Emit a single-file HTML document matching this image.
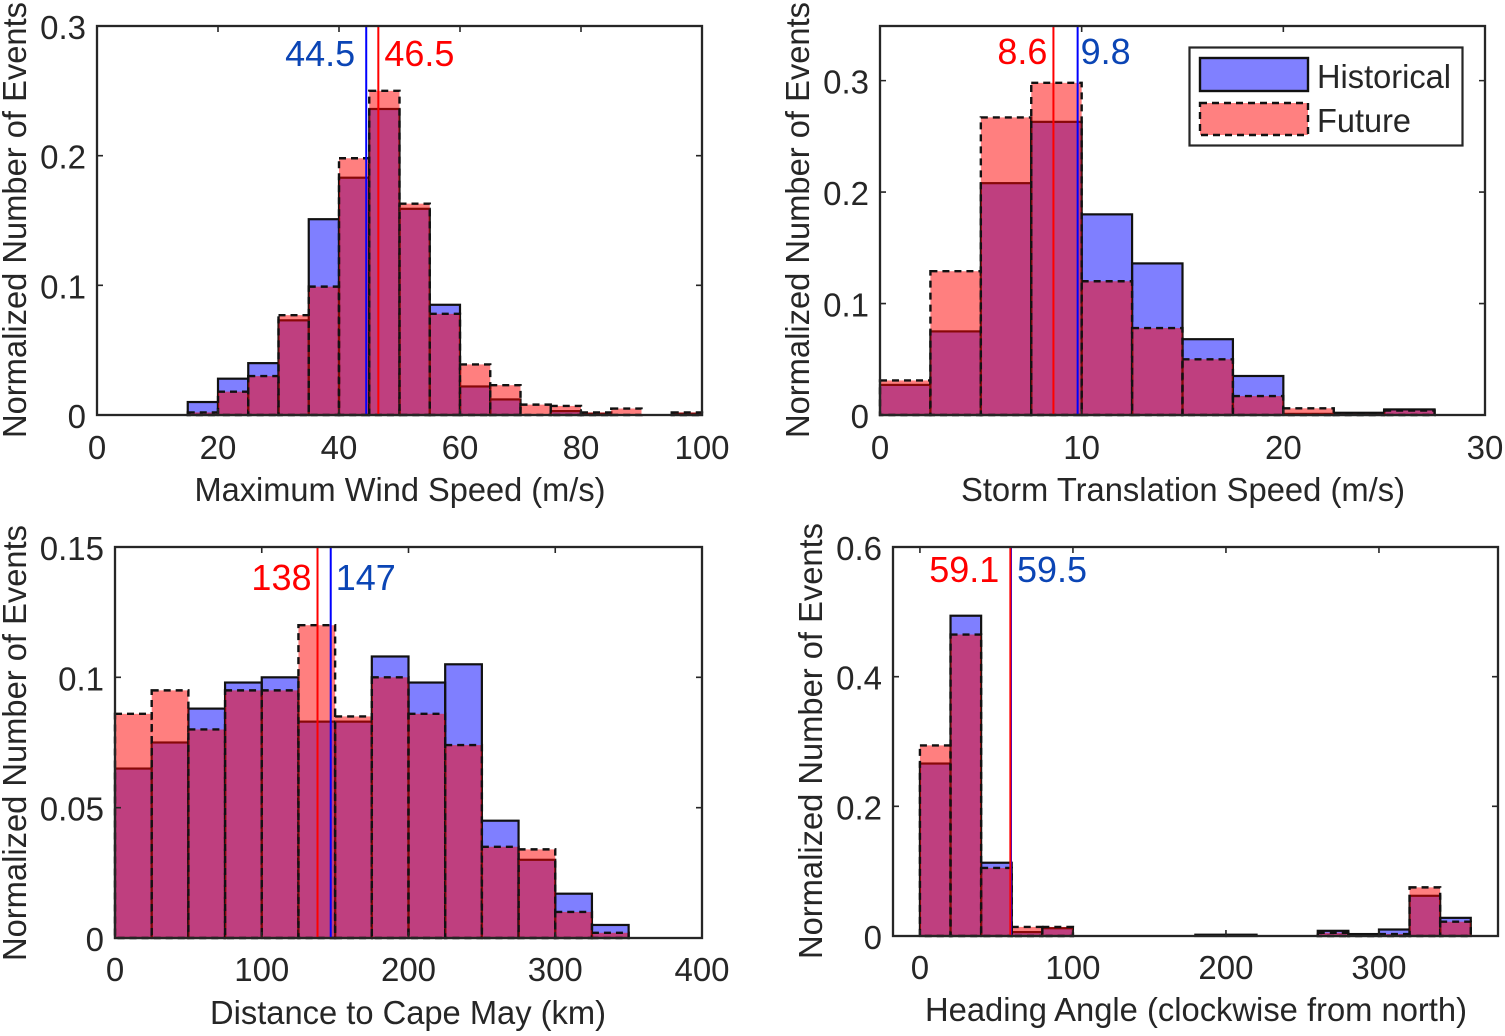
<!DOCTYPE html>
<html lang="en">
<head>
<meta charset="utf-8">
<title>Normalized histograms of storm properties</title>
<style>
html,body{margin:0;padding:0;background:#fff;}
svg{display:block;font-family:"Liberation Sans",Arial,sans-serif;}
text{fill:#262626;}
</style>
</head>
<body>
<svg id="figure" xmlns="http://www.w3.org/2000/svg" width="1505" height="1036" viewBox="0 0 1505 1036">
  <rect width="1505" height="1036" fill="#ffffff"/>
  <g id="layer"></g>
  <g>
    <rect x="1189.5" y="47.5" width="273" height="98" fill="#ffffff" stroke="#262626" stroke-width="2.2"/>
    <rect x="1200" y="58" width="108" height="33" fill="#8080ff" stroke="#111" stroke-width="2.4"/>
    <rect x="1200" y="103" width="108" height="32" fill="#ff8080" stroke="#111" stroke-width="2.4" stroke-dasharray="7 5"/>
    <text x="1317" y="88" font-size="33" textLength="134" lengthAdjust="spacingAndGlyphs">Historical</text>
    <text x="1317" y="132" font-size="33" textLength="94" lengthAdjust="spacingAndGlyphs">Future</text>
  </g>
</svg>
<script>
// Maximum wind speed panel
const windBinStart = 15;
const windBinWidth = 5;
const windHistorical = [0.010,0.028,0.040,0.073,0.151,0.183,0.236,0.159,0.085,0.022,0.012,0,0.003,0.001,0,0,0.001];
const windFuture = [0.002,0.018,0.030,0.077,0.099,0.198,0.250,0.163,0.078,0.039,0.023,0.008,0.007,0.002,0.005,0,0.002];
const windMedians = [44.5,46.5];
const windXTicks = [0,20,40,60,80,100];
const windYTicks = [0,0.1,0.2,0.3];
const windYLabels = ['0','0.1','0.2','0.3'];

// Storm translation speed panel
const speedBinStart = 0;
const speedBinWidth = 2.5;
const speedHistorical = [0.027,0.075,0.208,0.263,0.180,0.136,0.068,0.035,0.001,0.002,0.005];
const speedFuture = [0.031,0.129,0.267,0.298,0.120,0.078,0.050,0.017,0.006,0.001,0.004];
const speedMedians = [9.8,8.6];
const speedXTicks = [0,10,20,30];
const speedYTicks = [0,0.1,0.2,0.3];
const speedYLabels = ['0','0.1','0.2','0.3'];

// Distance to Cape May panel
const distBinStart = 0;
const distBinWidth = 25;
const distHistorical = [0.065,0.075,0.088,0.098,0.100,0.083,0.083,0.108,0.098,0.105,0.045,0.030,0.017,0.005];
const distFuture = [0.086,0.095,0.080,0.095,0.095,0.120,0.085,0.100,0.086,0.074,0.035,0.034,0.010,0.002];
const distMedians = [147,138];
const distXTicks = [0,100,200,300,400];
const distYTicks = [0,0.05,0.1,0.15];
const distYLabels = ['0','0.05','0.1','0.15'];

// Heading angle panel
const headBinStart = 0;
const headBinWidth = 20;
const headHistorical = [0.266,0.494,0.113,0.006,0.012,0,0,0,0,0.002,0.002,0,0,0.008,0.003,0.010,0.062,0.028];
const headFuture = [0.294,0.465,0.105,0.014,0.014,0,0,0,0,0,0,0,0,0.005,0.001,0.003,0.075,0.022];
const headMedians = [59.5,59.1];
const headXTicks = [0,100,200,300];
const headYTicks = [0,0.2,0.4,0.6];
const headYLabels = ['0','0.2','0.4','0.6'];

const SVGNS = 'http://www.w3.org/2000/svg';
const layer = document.getElementById('layer');

function make(tag, parent, attrs, text) {
  const el = document.createElementNS(SVGNS, tag);
  for (const k in attrs) el.setAttribute(k, attrs[k]);
  if (text !== undefined) el.textContent = text;
  parent.appendChild(el);
  return el;
}

function drawPanel(cfg) {
  const g = make('g', layer, {});
  
  
  const xOf = v => cfg.left + (v - cfg.xMin) / (cfg.xMax - cfg.xMin) * (cfg.right - cfg.left);
  const yOf = v => cfg.bottom - v / cfg.yMax * (cfg.bottom - cfg.top);

  const bg = make('rect', g, {x: cfg.left, y: cfg.top, width: cfg.right - cfg.left, height: cfg.bottom - cfg.top, fill: '#fff'});
  
  

  cfg.historical.forEach((v, i) => {
    const x0 = xOf(cfg.binStart + i * cfg.binWidth);
    const x1 = xOf(cfg.binStart + (i + 1) * cfg.binWidth);
    if (v <= 0) return;
    const bar = make('rect', g, {x: x0, y: yOf(v), width: x1 - x0, height: yOf(0) - yOf(v), fill: '#0000ff', 'fill-opacity': 0.5, stroke: '#111', 'stroke-width': 2.2});
    
    
  });
  cfg.future.forEach((v, i) => {
    const x0 = xOf(cfg.binStart + i * cfg.binWidth);
    const x1 = xOf(cfg.binStart + (i + 1) * cfg.binWidth);
    if (v <= 0) return;
    const bar = make('rect', g, {x: x0, y: yOf(v), width: x1 - x0, height: yOf(0) - yOf(v), fill: '#ff0000', 'fill-opacity': 0.5, stroke: 'none'});
    
    
    const edge = make('rect', g, {x: x0, y: yOf(v), width: x1 - x0, height: yOf(0) - yOf(v), fill: 'none', stroke: '#111', 'stroke-width': 2.4, 'stroke-dasharray': '7 5'});
    
    
  });

  // median lines: index 0 is historical (blue), index 1 is future (red)
  const lineColors = ['#0000ff', '#ff0000'];
  const seriesNames = ['historical', 'future'];
  cfg.medians.forEach((m, i) => {
    const line = make('line', g, {x1: xOf(m), x2: xOf(m), y1: cfg.top, y2: cfg.bottom, stroke: lineColors[i], 'stroke-width': 2});
    
    
  });
  const labelColors = ['#0b45b5', '#ff0000'];
  cfg.medians.forEach((m, i) => {
    const lab = make('text', g, {x: xOf(m) + cfg.labelOffset[i], y: cfg.labelY, 'font-size': 36, 'text-anchor': cfg.labelOffset[i] < 0 ? 'end' : 'start', style: 'fill:' + labelColors[i]}, cfg.medianText[i]);
    
    
  });

  // frame
  const frame = make('rect', g, {x: cfg.left, y: cfg.top, width: cfg.right - cfg.left, height: cfg.bottom - cfg.top, fill: 'none', stroke: '#262626', 'stroke-width': 2.3});
  
  

  // ticks
  const T = 6;
  cfg.xTicks.forEach(t => {
    const x = xOf(t);
    const a = make('path', g, {d: `M${x} ${cfg.bottom}v${-T}M${x} ${cfg.top}v${T}`, stroke: '#262626', 'stroke-width': 1.6, fill: 'none'});
    
    
    const l = make('text', g, {x: x, y: cfg.xTickY, 'font-size': 33, 'text-anchor': 'middle'}, String(t));
    
    
  });
  cfg.yTicks.forEach((t, i) => {
    const y = yOf(t);
    const a = make('path', g, {d: `M${cfg.left} ${y}h${T}M${cfg.right} ${y}h${-T}`, stroke: '#262626', 'stroke-width': 1.6, fill: 'none'});
    
    
    const l = make('text', g, {x: cfg.left - 11, y: y + 13, 'font-size': 33, 'text-anchor': 'end'}, cfg.yLabels[i]);
    
    
  });

  // axis titles
  const xt = make('text', g, {x: cfg.xTitleX, y: cfg.xTitleY, 'font-size': 33, 'text-anchor': 'middle', textLength: cfg.xTitleLen, lengthAdjust: 'spacingAndGlyphs'}, cfg.xTitle);
  
  
  const yt = make('text', g, {transform: `translate(${cfg.yTitleX} ${cfg.yTitleY}) rotate(-90)`, 'font-size': 33, 'text-anchor': 'middle', textLength: 436, lengthAdjust: 'spacingAndGlyphs'}, 'Normalized Number of Events');
  
  
}

drawPanel({name:'wind-speed', left:97, right:702, top:26, bottom:415, xMin:0, xMax:100, yMax:0.3,
  binStart:windBinStart, binWidth:windBinWidth, historical:windHistorical, future:windFuture,
  medians:windMedians, medianText:['44.5','46.5'], labelOffset:[-11,6], labelY:66,
  xTicks:windXTicks, yTicks:windYTicks, yLabels:windYLabels, xTickY:459,
  xTitle:'Maximum Wind Speed (m/s)', xTitleX:400, xTitleY:501, xTitleLen:411, yTitleX:26, yTitleY:220});

drawPanel({name:'translation-speed', left:880, right:1485, top:26, bottom:415, xMin:0, xMax:30, yMax:0.349,
  binStart:speedBinStart, binWidth:speedBinWidth, historical:speedHistorical, future:speedFuture,
  medians:speedMedians, medianText:['9.8','8.6'], labelOffset:[3,-6], labelY:64,
  xTicks:speedXTicks, yTicks:speedYTicks, yLabels:speedYLabels, xTickY:459,
  xTitle:'Storm Translation Speed (m/s)', xTitleX:1183, xTitleY:501, xTitleLen:444, yTitleX:809, yTitleY:220});

drawPanel({name:'distance', left:115, right:702, top:547, bottom:938, xMin:0, xMax:400, yMax:0.15,
  binStart:distBinStart, binWidth:distBinWidth, historical:distHistorical, future:distFuture,
  medians:distMedians, medianText:['147','138'], labelOffset:[5,-6], labelY:590,
  xTicks:distXTicks, yTicks:distYTicks, yLabels:distYLabels, xTickY:981,
  xTitle:'Distance to Cape May (km)', xTitleX:408, xTitleY:1024, xTitleLen:396, yTitleX:26, yTitleY:743});

drawPanel({name:'heading-angle', left:893, right:1498, top:547, bottom:936, xMin:-17.6, xMax:377.8, yMax:0.6,
  binStart:headBinStart, binWidth:headBinWidth, historical:headHistorical, future:headFuture,
  medians:headMedians, medianText:['59.5','59.1'], labelOffset:[6,-11], labelY:582,
  xTicks:headXTicks, yTicks:headYTicks, yLabels:headYLabels, xTickY:979,
  xTitle:'Heading Angle (clockwise from north)', xTitleX:1196, xTitleY:1021, xTitleLen:542, yTitleX:822, yTitleY:741});
</script>
</body>
</html>
